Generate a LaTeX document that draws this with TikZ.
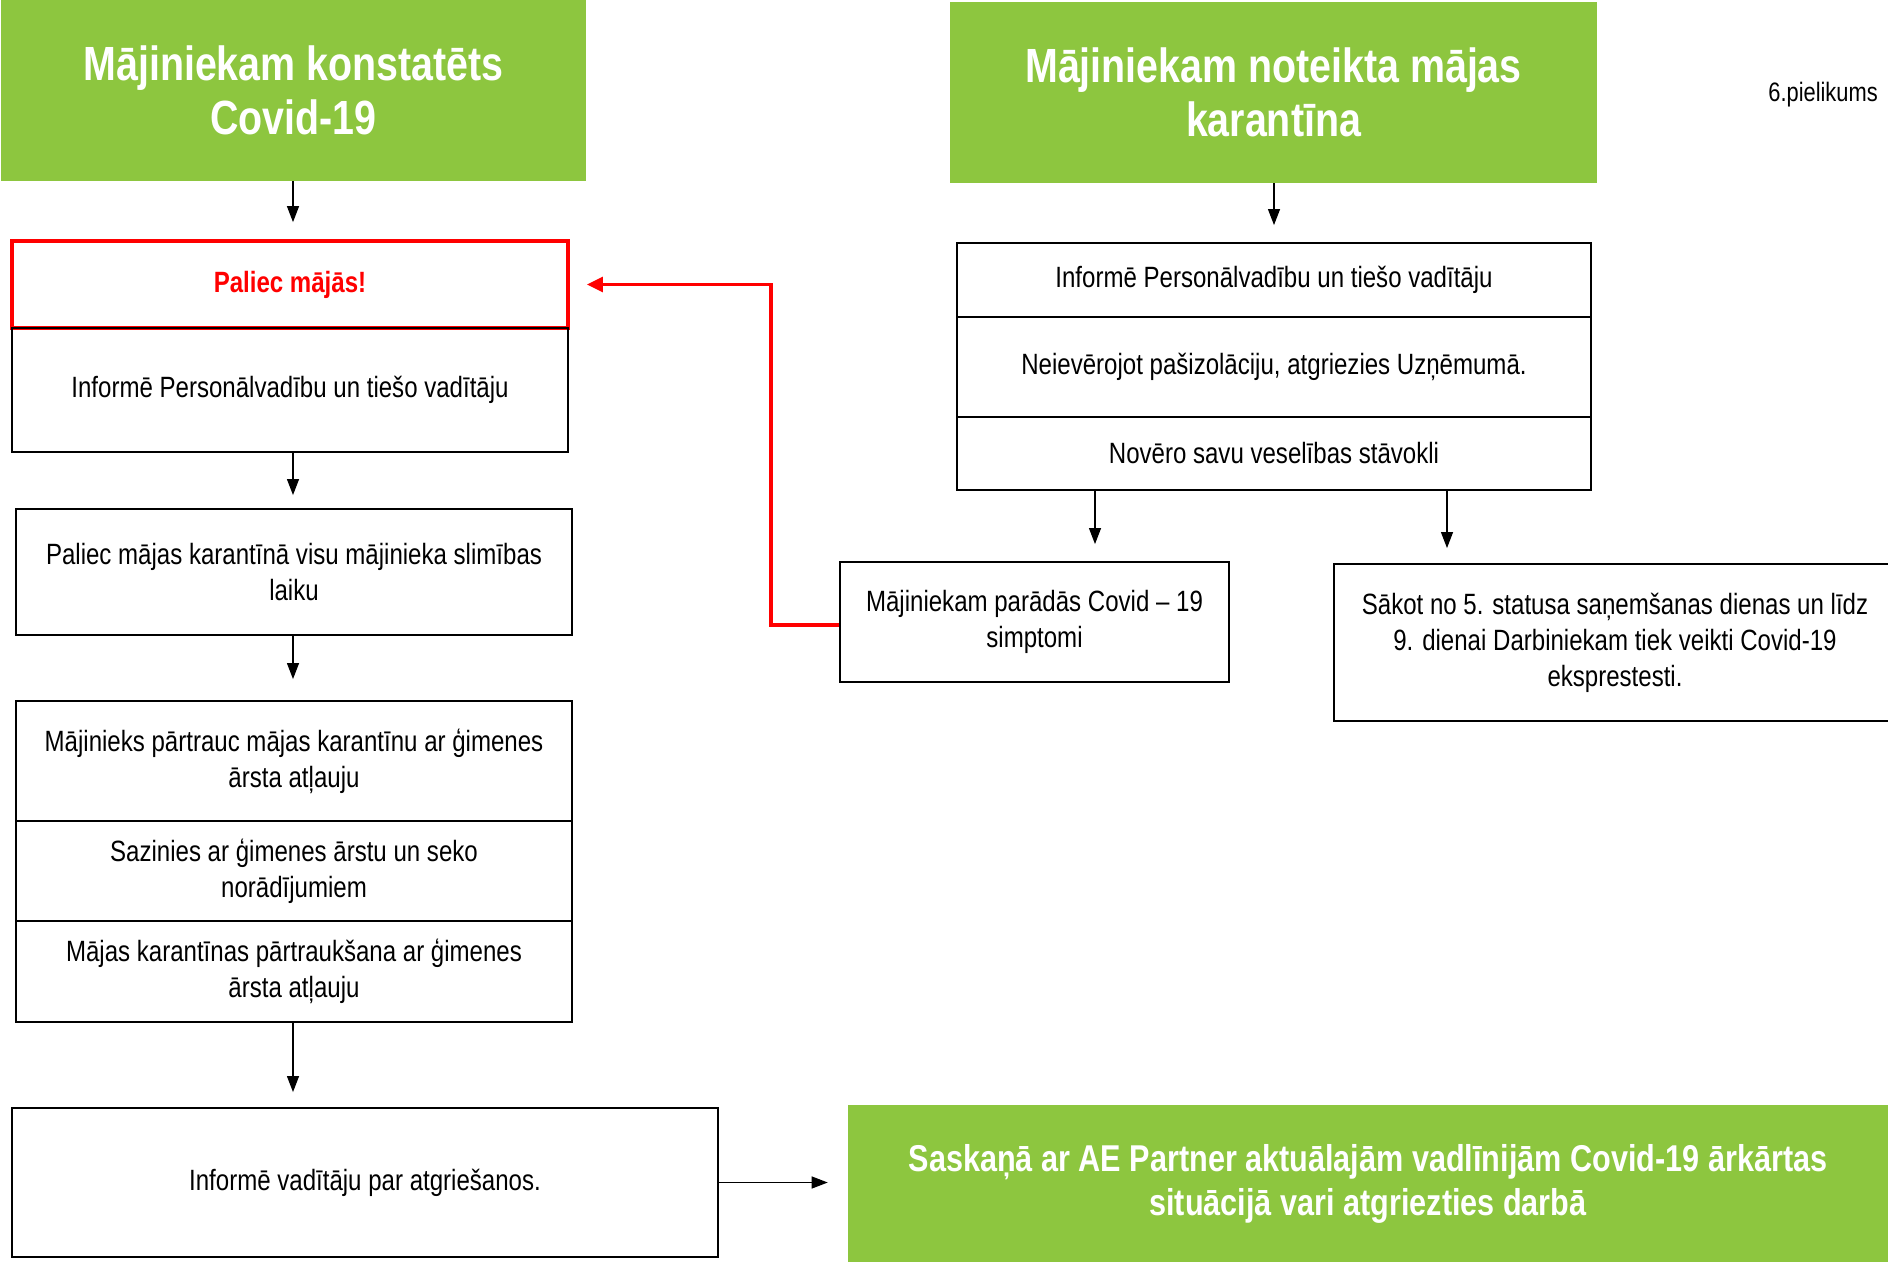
\documentclass[tikz,border=0pt]{standalone}
\usepackage{fontspec}
\setmainfont{Liberation Sans}[FakeStretch=0.82]
\usetikzlibrary{arrows.meta,calc}
\definecolor{leaf}{RGB}{141,198,63}
\definecolor{alarm}{RGB}{255,0,0}
\tikzset{
  box/.style={draw=black,line width=1.4pt,inner sep=0pt,align=center,
    font=\fontsize{22}{27}\selectfont},
  greenbox/.style={fill=leaf,draw=none,inner sep=0pt,align=center,text=white},
  redbox/.style={draw=alarm,line width=2.8pt,inner sep=0pt,align=center,text=alarm,
    font=\fontsize{22}{27}\selectfont\bfseries},
  arr/.style={line width=0.9pt,-{Triangle[length=12pt,width=9pt]}},
  redarr/.style={draw=alarm,line width=2.6pt,-{Triangle[length=12pt,width=11pt]},color=alarm},
}
% #1 style, #2 x1, #3 y1, #4 x2, #5 y2, #6 name
\newcommand\mkbox[6]{\node[#1,minimum width={(#4-#2)*0.75pt},minimum height={(#5-#3)*0.75pt}] (#6) at ({(#2+#4)/2},{(#3+#5)/2})}
\begin{document}
\begin{tikzpicture}[x=0.75pt,y=-0.75pt]
\path[use as bounding box,clip] (0,0) rectangle (1888,1262);
% left column
\mkbox{greenbox,font=\fontsize{36}{40.5}\selectfont\bfseries}{1}{0}{586}{181}{g1} {Mājiniekam konstatēts\\Covid-19};
\mkbox{redbox}{12}{241}{568}{328}{stay} {Paliec mājās!};
\mkbox{box}{12}{328}{568}{452}{infL} {Informē Personālvadību un tiešo vadītāju};
\mkbox{box}{16}{509}{572}{635}{quar} {Paliec mājas karantīnā visu mājinieka slimības\\laiku};
\mkbox{box}{16}{701}{572}{821}{stop1} {Mājinieks pārtrauc mājas karantīnu ar ģimenes\\ārsta atļauju};
\mkbox{box}{16}{821}{572}{921}{doc} {Sazinies ar ģimenes ārstu un seko\\norādījumiem};
\mkbox{box}{16}{921}{572}{1022}{stop2} {Mājas karantīnas pārtraukšana ar ģimenes\\ārsta atļauju};
\mkbox{box}{12}{1108}{718}{1257}{tell} {Informē vadītāju par atgriešanos.};
\mkbox{greenbox,font=\fontsize{28}{33}\selectfont\bfseries}{848}{1105}{1888}{1262}{g3} {Saskaņā ar AE Partner aktuālajām vadlīnijām Covid-19 ārkārtas\\situācijā vari atgriezties darbā};
% right column
\mkbox{greenbox,font=\fontsize{36}{40.5}\selectfont\bfseries}{950}{2}{1597}{183}{g2} {Mājiniekam noteikta mājas\\karantīna};
\node[font=\fontsize{20}{24}\selectfont,anchor=east,inner sep=0pt] (app) at (1878,95) {6.pielikums};
\mkbox{box}{957}{243}{1591}{317}{r1} {Informē Personālvadību un tiešo vadītāju};
\mkbox{box}{957}{317}{1591}{417}{r2} {Neievērojot pašizolāciju, atgriezies Uzņēmumā.};
\mkbox{box}{957}{417}{1591}{490}{r3} {Novēro savu veselības stāvokli};
\mkbox{box}{840}{562}{1229}{682}{symp} {Mājiniekam parādās Covid – 19\\simptomi};
\mkbox{box}{1334}{564}{1896}{721}{test} {Sākot no 5. statusa saņemšanas dienas un līdz\\9. dienai Darbiniekam tiek veikti Covid-19\\eksprestesti.};
% connectors
\coordinate (xl) at (293,0);
\coordinate (xr1) at (1095,0);
\coordinate (xr2) at (1447,0);
\coordinate (xg2) at (1274,0);
\coordinate (bend) at (771,0);
\draw[arr] (g1.south -| xl) -- ([yshift=17*0.75pt]stay.north -| xl);
\draw[arr] (infL.south -| xl) -- ([yshift=13*0.75pt]quar.north -| xl);
\draw[arr] (quar.south -| xl) -- ([yshift=21*0.75pt]stop1.north -| xl);
\draw[arr] (stop2.south -| xl) -- ([yshift=15*0.75pt]tell.north -| xl);
\draw[arr] (tell.east) -- ([xshift=-20*0.75pt]g3.west |- tell.east);
\draw[arr] (g2.south -| xg2) -- ([yshift=17*0.75pt]r1.north -| xg2);
\draw[arr] (r3.south -| xr1) -- ([yshift=17*0.75pt]symp.north -| xr1);
\draw[arr] (r3.south -| xr2) -- ([yshift=15*0.75pt]test.north -| xr2);
\draw[redarr] ([yshift=-3*0.75pt]symp.west) -| (bend |- stay.east) -- ([xshift=17*0.75pt]stay.east);
\end{tikzpicture}
\end{document}
